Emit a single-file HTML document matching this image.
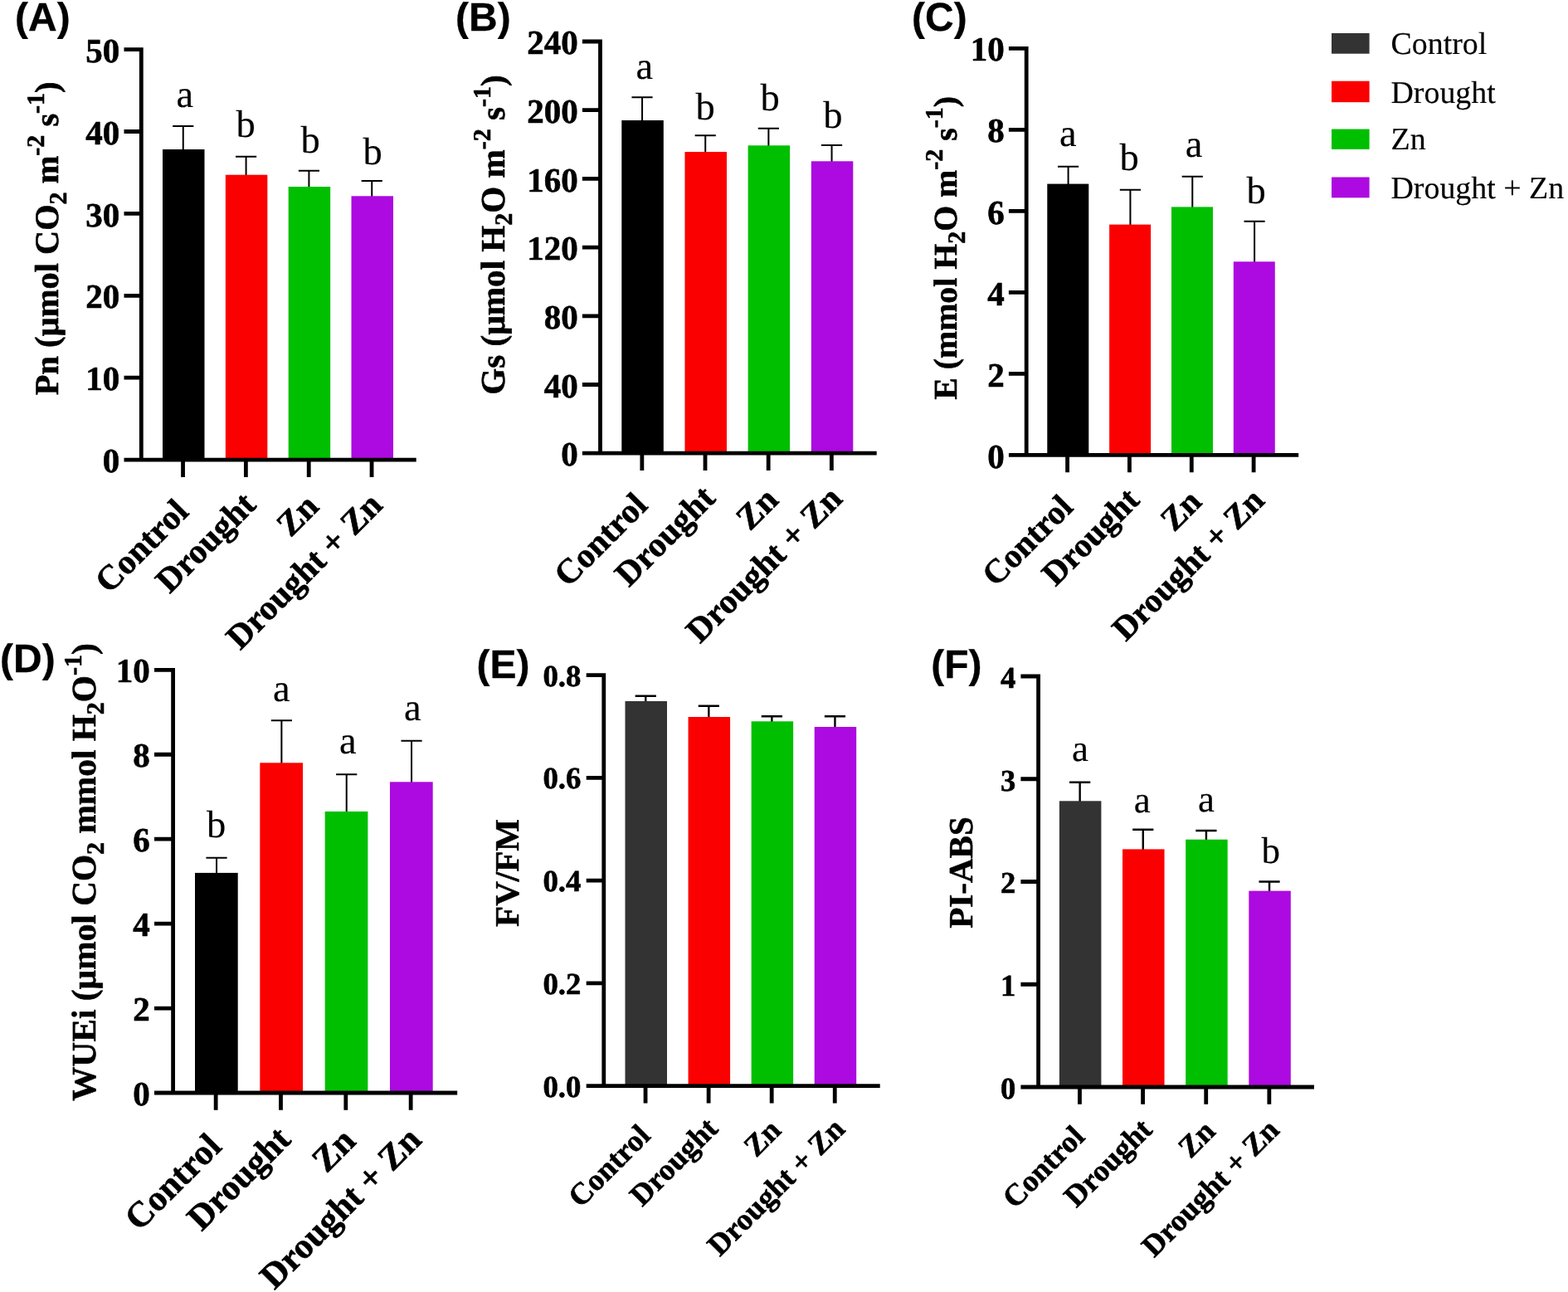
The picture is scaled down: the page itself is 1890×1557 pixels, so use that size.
<!DOCTYPE html>
<html lang="en">
<head>
<meta charset="utf-8">
<title>Gas exchange and chlorophyll fluorescence under Control, Drought, Zn and Drought + Zn</title>
<style>
html,body{margin:0;padding:0;background:#fff;}
body{width:1890px;height:1557px;overflow:hidden;}
svg{display:block;}
svg text{fill:#000;white-space:pre;stroke:#000;stroke-width:.6px;stroke-linejoin:round;paint-order:stroke fill;}
svg text.r{stroke-width:.15px;}
svg text.l{stroke-width:.3px;}
</style>
</head>
<body>
<svg role="img" aria-label="Bar charts A to F" width="1890" height="1557" viewBox="0 0 1890 1557" shape-rendering="geometricPrecision" text-rendering="geometricPrecision">
<rect width="1890" height="1557" fill="#fff"/>
<g>
<text x="18" y="37" class="l" font-family='"Liberation Sans","DejaVu Sans",sans-serif' font-weight="700" font-size="48">(A)</text>
<path d="M220.75 181.00V152.00M208.15 152.00H233.35" stroke="#000" stroke-width="2.0" fill="none"/>
<rect x="196.00" y="180.00" width="50.50" height="374.10" fill="#000000"/>
<path d="M296.58 211.70V188.70M283.98 188.70H309.18" stroke="#000" stroke-width="2.0" fill="none"/>
<rect x="271.83" y="210.70" width="50.50" height="343.40" fill="#fb0000"/>
<path d="M372.42 226.00V205.70M359.82 205.70H385.02" stroke="#000" stroke-width="2.0" fill="none"/>
<rect x="347.67" y="225.00" width="50.50" height="329.10" fill="#00bf00"/>
<path d="M448.25 237.30V218.00M435.65 218.00H460.85" stroke="#000" stroke-width="2.0" fill="none"/>
<rect x="423.50" y="236.30" width="50.50" height="317.80" fill="#ac0ae0"/>
<path d="M170.30 57.20V554.10M149.50 554.10H501.70M149.50 59.60H170.30M149.50 158.50H170.30M149.50 257.40H170.30M149.50 356.30H170.30M149.50 455.20H170.30M149.50 554.10H170.30M220.55 554.10V574.90M296.38 554.10V574.90M372.22 554.10V574.90M448.05 554.10V574.90" stroke="#000" stroke-width="4.8" fill="none"/>
<text x="144.30" y="74.77" text-anchor="end" font-family='"Liberation Serif","DejaVu Serif",serif' font-weight="700" font-size="41">50</text>
<text x="144.30" y="173.67" text-anchor="end" font-family='"Liberation Serif","DejaVu Serif",serif' font-weight="700" font-size="41">40</text>
<text x="144.30" y="272.57" text-anchor="end" font-family='"Liberation Serif","DejaVu Serif",serif' font-weight="700" font-size="41">30</text>
<text x="144.30" y="371.47" text-anchor="end" font-family='"Liberation Serif","DejaVu Serif",serif' font-weight="700" font-size="41">20</text>
<text x="144.30" y="470.37" text-anchor="end" font-family='"Liberation Serif","DejaVu Serif",serif' font-weight="700" font-size="41">10</text>
<text x="144.30" y="569.27" text-anchor="end" font-family='"Liberation Serif","DejaVu Serif",serif' font-weight="700" font-size="41">0</text>
<text x="222.70" y="128.80" text-anchor="middle" class="r" font-family='"Liberation Serif","DejaVu Serif",serif' font-size="46.5">a</text>
<text x="296.00" y="165.40" text-anchor="middle" class="r" font-family='"Liberation Serif","DejaVu Serif",serif' font-size="46.5">b</text>
<text x="374.20" y="184.20" text-anchor="middle" class="r" font-family='"Liberation Serif","DejaVu Serif",serif' font-size="46.5">b</text>
<text x="449.00" y="197.50" text-anchor="middle" class="r" font-family='"Liberation Serif","DejaVu Serif",serif' font-size="46.5">b</text>
<text transform="translate(229.25 618.90) rotate(-45)" text-anchor="end" font-family='"Liberation Serif","DejaVu Serif",serif' font-weight="700" font-size="41.7">Control</text>
<text transform="translate(310.38 610.40) rotate(-45)" text-anchor="end" font-family='"Liberation Serif","DejaVu Serif",serif' font-weight="700" font-size="41.7">Drought</text>
<text transform="translate(386.22 612.50) rotate(-45)" text-anchor="end" font-family='"Liberation Serif","DejaVu Serif",serif' font-weight="700" font-size="41.7">Zn</text>
<text transform="translate(462.95 610.90) rotate(-45)" text-anchor="end" font-family='"Liberation Serif","DejaVu Serif",serif' font-weight="700" font-size="41.7">Drought + Zn</text>
<text transform="translate(70.30 287.30) rotate(-90)" text-anchor="middle" font-family='"Liberation Serif","DejaVu Serif",serif' font-weight="700" font-size="40.4">Pn (µmol CO<tspan font-size="30" dy="9.5">2</tspan><tspan dy="-9.5"> m</tspan><tspan font-size="30" dy="-17">-2</tspan><tspan dy="17"> s</tspan><tspan font-size="30" dy="-17">-1</tspan><tspan dy="17">)</tspan></text>
</g>
<g>
<text x="549" y="37" class="l" font-family='"Liberation Sans","DejaVu Sans",sans-serif' font-weight="700" font-size="48">(B)</text>
<path d="M774.05 146.00V117.30M761.45 117.30H786.65" stroke="#000" stroke-width="2.0" fill="none"/>
<rect x="749.30" y="145.00" width="50.50" height="401.20" fill="#000000"/>
<path d="M850.22 184.00V163.30M837.62 163.30H862.82" stroke="#000" stroke-width="2.0" fill="none"/>
<rect x="825.47" y="183.00" width="50.50" height="363.20" fill="#fb0000"/>
<path d="M926.38 176.30V154.70M913.78 154.70H938.98" stroke="#000" stroke-width="2.0" fill="none"/>
<rect x="901.63" y="175.30" width="50.50" height="370.90" fill="#00bf00"/>
<path d="M1002.55 195.30V175.00M989.95 175.00H1015.15" stroke="#000" stroke-width="2.0" fill="none"/>
<rect x="977.80" y="194.30" width="50.50" height="351.90" fill="#ac0ae0"/>
<path d="M723.50 47.60V546.20M701.90 546.20H1056.70M701.90 50.00H723.50M701.90 132.70H723.50M701.90 215.40H723.50M701.90 298.10H723.50M701.90 380.80H723.50M701.90 463.50H723.50M701.90 546.20H723.50M773.85 546.20V567.00M850.02 546.20V567.00M926.18 546.20V567.00M1002.35 546.20V567.00" stroke="#000" stroke-width="4.8" fill="none"/>
<text x="696.70" y="65.17" text-anchor="end" font-family='"Liberation Serif","DejaVu Serif",serif' font-weight="700" font-size="41">240</text>
<text x="696.70" y="147.87" text-anchor="end" font-family='"Liberation Serif","DejaVu Serif",serif' font-weight="700" font-size="41">200</text>
<text x="696.70" y="230.57" text-anchor="end" font-family='"Liberation Serif","DejaVu Serif",serif' font-weight="700" font-size="41">160</text>
<text x="696.70" y="313.27" text-anchor="end" font-family='"Liberation Serif","DejaVu Serif",serif' font-weight="700" font-size="41">120</text>
<text x="696.70" y="395.97" text-anchor="end" font-family='"Liberation Serif","DejaVu Serif",serif' font-weight="700" font-size="41">80</text>
<text x="696.70" y="478.67" text-anchor="end" font-family='"Liberation Serif","DejaVu Serif",serif' font-weight="700" font-size="41">40</text>
<text x="696.70" y="561.37" text-anchor="end" font-family='"Liberation Serif","DejaVu Serif",serif' font-weight="700" font-size="41">0</text>
<text x="776.70" y="95.40" text-anchor="middle" class="r" font-family='"Liberation Serif","DejaVu Serif",serif' font-size="46.5">a</text>
<text x="850.00" y="144.00" text-anchor="middle" class="r" font-family='"Liberation Serif","DejaVu Serif",serif' font-size="46.5">b</text>
<text x="928.00" y="133.00" text-anchor="middle" class="r" font-family='"Liberation Serif","DejaVu Serif",serif' font-size="46.5">b</text>
<text x="1003.80" y="154.00" text-anchor="middle" class="r" font-family='"Liberation Serif","DejaVu Serif",serif' font-size="46.5">b</text>
<text transform="translate(782.55 611.00) rotate(-45)" text-anchor="end" font-family='"Liberation Serif","DejaVu Serif",serif' font-weight="700" font-size="41.7">Control</text>
<text transform="translate(864.02 602.50) rotate(-45)" text-anchor="end" font-family='"Liberation Serif","DejaVu Serif",serif' font-weight="700" font-size="41.7">Drought</text>
<text transform="translate(940.18 604.60) rotate(-45)" text-anchor="end" font-family='"Liberation Serif","DejaVu Serif",serif' font-weight="700" font-size="41.7">Zn</text>
<text transform="translate(1017.25 603.00) rotate(-45)" text-anchor="end" font-family='"Liberation Serif","DejaVu Serif",serif' font-weight="700" font-size="41.7">Drought + Zn</text>
<text transform="translate(607.50 283.00) rotate(-90)" text-anchor="middle" font-family='"Liberation Serif","DejaVu Serif",serif' font-weight="700" font-size="41.1">Gs (µmol H<tspan font-size="30" dy="9.5">2</tspan><tspan dy="-9.5">O m</tspan><tspan font-size="30" dy="-17">-2</tspan><tspan dy="17"> s</tspan><tspan font-size="30" dy="-17">-1</tspan><tspan dy="17">)</tspan></text>
</g>
<g>
<text x="1099" y="37" class="l" font-family='"Liberation Sans","DejaVu Sans",sans-serif' font-weight="700" font-size="48">(C)</text>
<path d="M1287.60 222.60V200.70M1275.00 200.70H1300.20" stroke="#000" stroke-width="2.0" fill="none"/>
<rect x="1262.30" y="221.60" width="50.00" height="326.80" fill="#000000"/>
<path d="M1362.43 271.60V228.70M1349.83 228.70H1375.03" stroke="#000" stroke-width="2.0" fill="none"/>
<rect x="1337.13" y="270.60" width="50.00" height="277.80" fill="#fb0000"/>
<path d="M1437.27 250.40V212.70M1424.67 212.70H1449.87" stroke="#000" stroke-width="2.0" fill="none"/>
<rect x="1411.97" y="249.40" width="50.00" height="299.00" fill="#00bf00"/>
<path d="M1512.10 316.30V266.70M1499.50 266.70H1524.70" stroke="#000" stroke-width="2.0" fill="none"/>
<rect x="1486.80" y="315.30" width="50.00" height="233.10" fill="#ac0ae0"/>
<path d="M1237.20 55.90V548.40M1215.90 548.40H1565.20M1215.90 58.30H1237.20M1215.90 156.32H1237.20M1215.90 254.34H1237.20M1215.90 352.36H1237.20M1215.90 450.38H1237.20M1215.90 548.40H1237.20M1286.60 548.40V569.20M1361.43 548.40V569.20M1436.27 548.40V569.20M1511.10 548.40V569.20" stroke="#000" stroke-width="4.8" fill="none"/>
<text x="1210.70" y="73.47" text-anchor="end" font-family='"Liberation Serif","DejaVu Serif",serif' font-weight="700" font-size="41">10</text>
<text x="1210.70" y="171.49" text-anchor="end" font-family='"Liberation Serif","DejaVu Serif",serif' font-weight="700" font-size="41">8</text>
<text x="1210.70" y="269.51" text-anchor="end" font-family='"Liberation Serif","DejaVu Serif",serif' font-weight="700" font-size="41">6</text>
<text x="1210.70" y="367.53" text-anchor="end" font-family='"Liberation Serif","DejaVu Serif",serif' font-weight="700" font-size="41">4</text>
<text x="1210.70" y="465.55" text-anchor="end" font-family='"Liberation Serif","DejaVu Serif",serif' font-weight="700" font-size="41">2</text>
<text x="1210.70" y="563.57" text-anchor="end" font-family='"Liberation Serif","DejaVu Serif",serif' font-weight="700" font-size="41">0</text>
<text x="1287.30" y="175.90" text-anchor="middle" class="r" font-family='"Liberation Serif","DejaVu Serif",serif' font-size="46.5">a</text>
<text x="1361.00" y="205.20" text-anchor="middle" class="r" font-family='"Liberation Serif","DejaVu Serif",serif' font-size="46.5">b</text>
<text x="1439.00" y="189.00" text-anchor="middle" class="r" font-family='"Liberation Serif","DejaVu Serif",serif' font-size="46.5">a</text>
<text x="1514.10" y="244.90" text-anchor="middle" class="r" font-family='"Liberation Serif","DejaVu Serif",serif' font-size="46.5">b</text>
<text transform="translate(1295.30 613.20) rotate(-45)" text-anchor="end" font-family='"Liberation Serif","DejaVu Serif",serif' font-weight="700" font-size="40.6">Control</text>
<text transform="translate(1375.43 604.70) rotate(-45)" text-anchor="end" font-family='"Liberation Serif","DejaVu Serif",serif' font-weight="700" font-size="40.6">Drought</text>
<text transform="translate(1450.27 606.80) rotate(-45)" text-anchor="end" font-family='"Liberation Serif","DejaVu Serif",serif' font-weight="700" font-size="40.6">Zn</text>
<text transform="translate(1526.00 605.20) rotate(-45)" text-anchor="end" font-family='"Liberation Serif","DejaVu Serif",serif' font-weight="700" font-size="40.6">Drought + Zn</text>
<text transform="translate(1153.00 298.90) rotate(-90)" text-anchor="middle" font-family='"Liberation Serif","DejaVu Serif",serif' font-weight="700" font-size="39.8">E (mmol H<tspan font-size="30" dy="9.5">2</tspan><tspan dy="-9.5">O m</tspan><tspan font-size="30" dy="-17">-2</tspan><tspan dy="17"> s</tspan><tspan font-size="30" dy="-17">-1</tspan><tspan dy="17">)</tspan></text>
</g>
<g>
<text x="0" y="809.5" class="l" font-family='"Liberation Sans","DejaVu Sans",sans-serif' font-weight="700" font-size="48">(D)</text>
<path d="M261.05 1052.90V1033.70M248.45 1033.70H273.65" stroke="#000" stroke-width="2.0" fill="none"/>
<rect x="235.00" y="1051.90" width="51.70" height="265.10" fill="#000000"/>
<path d="M339.38 920.30V868.30M326.78 868.30H351.98" stroke="#000" stroke-width="2.0" fill="none"/>
<rect x="313.33" y="919.30" width="51.70" height="397.70" fill="#fb0000"/>
<path d="M417.72 978.90V933.30M405.12 933.30H430.32" stroke="#000" stroke-width="2.0" fill="none"/>
<rect x="391.67" y="977.90" width="51.70" height="339.10" fill="#00bf00"/>
<path d="M496.05 943.30V892.70M483.45 892.70H508.65" stroke="#000" stroke-width="2.0" fill="none"/>
<rect x="470.00" y="942.30" width="51.70" height="374.70" fill="#ac0ae0"/>
<path d="M208.60 804.90V1317.00M186.00 1317.00H551.20M186.00 807.30H208.60M186.00 909.24H208.60M186.00 1011.18H208.60M186.00 1113.12H208.60M186.00 1215.06H208.60M186.00 1317.00H208.60M260.15 1317.00V1337.80M338.48 1317.00V1337.80M416.82 1317.00V1337.80M495.15 1317.00V1337.80" stroke="#000" stroke-width="4.8" fill="none"/>
<text x="180.80" y="822.47" text-anchor="end" font-family='"Liberation Serif","DejaVu Serif",serif' font-weight="700" font-size="41">10</text>
<text x="180.80" y="924.41" text-anchor="end" font-family='"Liberation Serif","DejaVu Serif",serif' font-weight="700" font-size="41">8</text>
<text x="180.80" y="1026.35" text-anchor="end" font-family='"Liberation Serif","DejaVu Serif",serif' font-weight="700" font-size="41">6</text>
<text x="180.80" y="1128.29" text-anchor="end" font-family='"Liberation Serif","DejaVu Serif",serif' font-weight="700" font-size="41">4</text>
<text x="180.80" y="1230.23" text-anchor="end" font-family='"Liberation Serif","DejaVu Serif",serif' font-weight="700" font-size="41">2</text>
<text x="180.80" y="1332.17" text-anchor="end" font-family='"Liberation Serif","DejaVu Serif",serif' font-weight="700" font-size="41">0</text>
<text x="260.50" y="1008.90" text-anchor="middle" class="r" font-family='"Liberation Serif","DejaVu Serif",serif' font-size="46.5">b</text>
<text x="339.30" y="845.10" text-anchor="middle" class="r" font-family='"Liberation Serif","DejaVu Serif",serif' font-size="46.5">a</text>
<text x="419.30" y="907.70" text-anchor="middle" class="r" font-family='"Liberation Serif","DejaVu Serif",serif' font-size="46.5">a</text>
<text x="497.40" y="868.30" text-anchor="middle" class="r" font-family='"Liberation Serif","DejaVu Serif",serif' font-size="46.5">a</text>
<text transform="translate(268.85 1383.80) rotate(-45)" text-anchor="end" font-family='"Liberation Serif","DejaVu Serif",serif' font-weight="700" font-size="43.1">Control</text>
<text transform="translate(352.48 1375.30) rotate(-45)" text-anchor="end" font-family='"Liberation Serif","DejaVu Serif",serif' font-weight="700" font-size="43.1">Drought</text>
<text transform="translate(430.82 1377.40) rotate(-45)" text-anchor="end" font-family='"Liberation Serif","DejaVu Serif",serif' font-weight="700" font-size="43.1">Zn</text>
<text transform="translate(510.05 1375.80) rotate(-45)" text-anchor="end" font-family='"Liberation Serif","DejaVu Serif",serif' font-weight="700" font-size="43.1">Drought + Zn</text>
<text transform="translate(115.20 1051.00) rotate(-90)" text-anchor="middle" font-family='"Liberation Serif","DejaVu Serif",serif' font-weight="700" font-size="41.3">WUEi (µmol CO<tspan font-size="30" dy="9.5">2</tspan><tspan dy="-9.5"> mmol H</tspan><tspan font-size="30" dy="9.5">2</tspan><tspan dy="-9.5">O</tspan><tspan font-size="30" dy="-17">-1</tspan><tspan dy="17">)</tspan></text>
</g>
<g>
<text x="574.5" y="817" class="l" font-family='"Liberation Sans","DejaVu Sans",sans-serif' font-weight="700" font-size="48">(E)</text>
<path d="M778.25 846.00V838.70M765.65 838.70H790.85" stroke="#000" stroke-width="2.4" fill="none"/>
<rect x="753.50" y="845.00" width="50.50" height="463.70" fill="#333333"/>
<path d="M854.32 865.00V850.70M841.72 850.70H866.92" stroke="#000" stroke-width="2.4" fill="none"/>
<rect x="829.57" y="864.00" width="50.50" height="444.70" fill="#fb0000"/>
<path d="M930.38 870.30V863.30M917.78 863.30H942.98" stroke="#000" stroke-width="2.4" fill="none"/>
<rect x="905.63" y="869.30" width="50.50" height="439.40" fill="#00bf00"/>
<path d="M1006.45 877.00V863.30M993.85 863.30H1019.05" stroke="#000" stroke-width="2.4" fill="none"/>
<rect x="981.70" y="876.00" width="50.50" height="432.70" fill="#ac0ae0"/>
<path d="M727.80 811.30V1308.70M706.70 1308.70H1060.70M706.70 813.70H727.80M706.70 937.45H727.80M706.70 1061.20H727.80M706.70 1184.95H727.80M706.70 1308.70H727.80M778.05 1308.70V1329.50M854.12 1308.70V1329.50M930.18 1308.70V1329.50M1006.25 1308.70V1329.50" stroke="#000" stroke-width="4.8" fill="none"/>
<text x="700.40" y="826.58" text-anchor="end" font-family='"Liberation Serif","DejaVu Serif",serif' font-weight="700" font-size="36.8">0.8</text>
<text x="700.40" y="950.33" text-anchor="end" font-family='"Liberation Serif","DejaVu Serif",serif' font-weight="700" font-size="36.8">0.6</text>
<text x="700.40" y="1074.08" text-anchor="end" font-family='"Liberation Serif","DejaVu Serif",serif' font-weight="700" font-size="36.8">0.4</text>
<text x="700.40" y="1197.83" text-anchor="end" font-family='"Liberation Serif","DejaVu Serif",serif' font-weight="700" font-size="36.8">0.2</text>
<text x="700.40" y="1321.58" text-anchor="end" font-family='"Liberation Serif","DejaVu Serif",serif' font-weight="700" font-size="36.8">0.0</text>
<text transform="translate(785.75 1370.50) rotate(-45)" text-anchor="end" font-family='"Liberation Serif","DejaVu Serif",serif' font-weight="700" font-size="36.7">Control</text>
<text transform="translate(867.12 1362.00) rotate(-45)" text-anchor="end" font-family='"Liberation Serif","DejaVu Serif",serif' font-weight="700" font-size="36.7">Drought</text>
<text transform="translate(943.18 1364.10) rotate(-45)" text-anchor="end" font-family='"Liberation Serif","DejaVu Serif",serif' font-weight="700" font-size="36.7">Zn</text>
<text transform="translate(1020.15 1362.50) rotate(-45)" text-anchor="end" font-family='"Liberation Serif","DejaVu Serif",serif' font-weight="700" font-size="36.7">Drought + Zn</text>
<text transform="translate(625.00 1052.00) rotate(-90)" text-anchor="middle" font-family='"Liberation Serif","DejaVu Serif",serif' font-weight="700" font-size="41">FV/FM</text>
</g>
<g>
<text x="1122.3" y="816.8" class="l" font-family='"Liberation Sans","DejaVu Sans",sans-serif' font-weight="700" font-size="48">(F)</text>
<path d="M1301.65 966.30V942.70M1289.05 942.70H1314.25" stroke="#000" stroke-width="2.4" fill="none"/>
<rect x="1276.90" y="965.30" width="50.50" height="344.70" fill="#333333"/>
<path d="M1377.78 1024.40V999.70M1365.18 999.70H1390.38" stroke="#000" stroke-width="2.4" fill="none"/>
<rect x="1353.03" y="1023.40" width="50.50" height="286.60" fill="#fb0000"/>
<path d="M1453.92 1012.70V1001.00M1441.32 1001.00H1466.52" stroke="#000" stroke-width="2.4" fill="none"/>
<rect x="1429.17" y="1011.70" width="50.50" height="298.30" fill="#00bf00"/>
<path d="M1530.05 1074.60V1062.50M1517.45 1062.50H1542.65" stroke="#000" stroke-width="2.4" fill="none"/>
<rect x="1505.30" y="1073.60" width="50.50" height="236.40" fill="#ac0ae0"/>
<path d="M1251.60 812.60V1310.00M1230.40 1310.00H1584.00M1230.40 815.00H1251.60M1230.40 938.75H1251.60M1230.40 1062.50H1251.60M1230.40 1186.25H1251.60M1230.40 1310.00H1251.60M1301.45 1310.00V1330.80M1377.58 1310.00V1330.80M1453.72 1310.00V1330.80M1529.85 1310.00V1330.80" stroke="#000" stroke-width="4.8" fill="none"/>
<text x="1224.40" y="828.91" text-anchor="end" font-family='"Liberation Serif","DejaVu Serif",serif' font-weight="700" font-size="36.6">4</text>
<text x="1224.40" y="952.66" text-anchor="end" font-family='"Liberation Serif","DejaVu Serif",serif' font-weight="700" font-size="36.6">3</text>
<text x="1224.40" y="1076.41" text-anchor="end" font-family='"Liberation Serif","DejaVu Serif",serif' font-weight="700" font-size="36.6">2</text>
<text x="1224.40" y="1200.16" text-anchor="end" font-family='"Liberation Serif","DejaVu Serif",serif' font-weight="700" font-size="36.6">1</text>
<text x="1224.40" y="1323.91" text-anchor="end" font-family='"Liberation Serif","DejaVu Serif",serif' font-weight="700" font-size="36.6">0</text>
<text x="1301.90" y="916.90" text-anchor="middle" class="r" font-family='"Liberation Serif","DejaVu Serif",serif' font-size="45">a</text>
<text x="1376.70" y="979.10" text-anchor="middle" class="r" font-family='"Liberation Serif","DejaVu Serif",serif' font-size="45">a</text>
<text x="1454.00" y="977.50" text-anchor="middle" class="r" font-family='"Liberation Serif","DejaVu Serif",serif' font-size="45">a</text>
<text x="1531.70" y="1040.10" text-anchor="middle" class="r" font-family='"Liberation Serif","DejaVu Serif",serif' font-size="45">b</text>
<text transform="translate(1309.15 1371.80) rotate(-45)" text-anchor="end" font-family='"Liberation Serif","DejaVu Serif",serif' font-weight="700" font-size="36.7">Control</text>
<text transform="translate(1390.58 1363.30) rotate(-45)" text-anchor="end" font-family='"Liberation Serif","DejaVu Serif",serif' font-weight="700" font-size="36.7">Drought</text>
<text transform="translate(1466.72 1365.40) rotate(-45)" text-anchor="end" font-family='"Liberation Serif","DejaVu Serif",serif' font-weight="700" font-size="36.7">Zn</text>
<text transform="translate(1543.75 1363.80) rotate(-45)" text-anchor="end" font-family='"Liberation Serif","DejaVu Serif",serif' font-weight="700" font-size="36.7">Drought + Zn</text>
<text transform="translate(1171.70 1051.50) rotate(-90)" text-anchor="middle" font-family='"Liberation Serif","DejaVu Serif",serif' font-weight="700" font-size="41">PI-ABS</text>
</g>
<g>
<rect x="1605" y="40.0" width="45.6" height="24.70" fill="#333333"/>
<text class="r" x="1676.5" y="65.1" font-family='"Liberation Serif","DejaVu Serif",serif' font-size="37.9">Control</text>
<rect x="1605" y="97.7" width="45.6" height="25.50" fill="#fb0000"/>
<text class="r" x="1676.5" y="123.7" font-family='"Liberation Serif","DejaVu Serif",serif' font-size="37.9">Drought</text>
<rect x="1605" y="155.6" width="45.6" height="24.30" fill="#00bf00"/>
<text class="r" x="1676.5" y="180.4" font-family='"Liberation Serif","DejaVu Serif",serif' font-size="37.9">Zn</text>
<rect x="1605" y="213.5" width="45.6" height="24.80" fill="#ac0ae0"/>
<text class="r" x="1676.5" y="238.7" font-family='"Liberation Serif","DejaVu Serif",serif' font-size="37.9">Drought + Zn</text>
</g>
</svg>
</body>
</html>
